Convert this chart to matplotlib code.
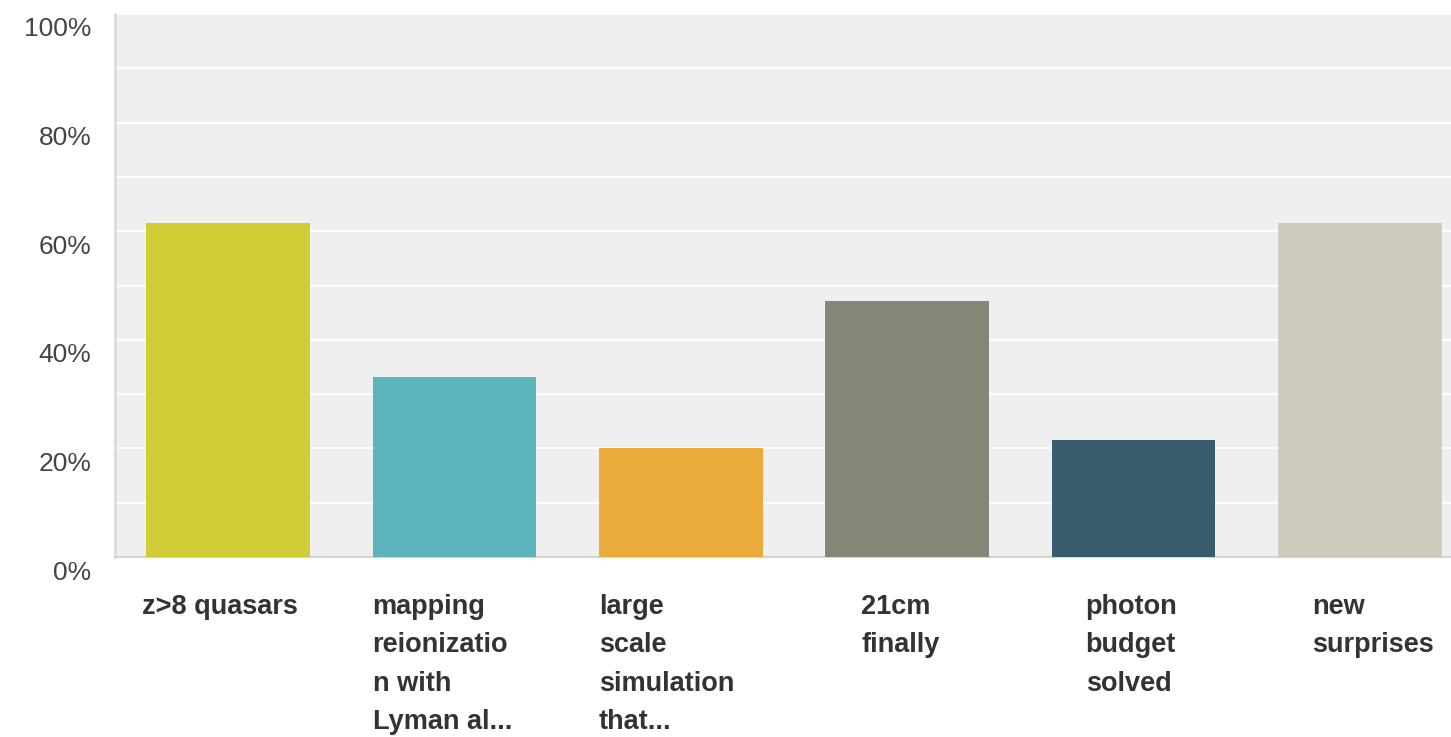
import matplotlib
matplotlib.use("Agg")
import matplotlib.pyplot as plt
import matplotlib.transforms as mtransforms
from matplotlib.ticker import MultipleLocator, FuncFormatter

categories = ["z>8 quasars", "mapping\nreionizatio\nn with\nLyman al...",
              "large\nscale\nsimulation\nthat...", "21cm\nfinally",
              "photon\nbudget\nsolved", "new\nsurprises"]
values = [61.6, 33.1, 20.1, 47.1, 21.5, 61.6]
colors = ["#d0cc36", "#5bb4b9", "#eaab3b", "#868677", "#385d6c", "#cfccbe"]
label_nudge_px = [-4, 0, 0, 36, 34, 34]

plt.rcParams['font.family'] = ['Liberation Sans', 'DejaVu Sans']

fig = plt.figure(figsize=(14.51, 7.37), dpi=100)
W, H = 1451, 737
left, right, top, bottom = 115, 1473, 14, 557
ax = fig.add_axes([left / W, (H - bottom) / H, (right - left) / W, (bottom - top) / H])
ax.set_facecolor("#efefef")

x = list(range(len(categories)))
ax.bar(x, values, width=0.724, color=colors, zorder=3)
ax.set_xlim(-0.5, len(categories) - 0.5)
ax.set_ylim(0, 100)

ax.yaxis.set_major_locator(MultipleLocator(20))
ax.yaxis.set_minor_locator(MultipleLocator(10))
ax.yaxis.set_major_formatter(FuncFormatter(lambda v, p: f"{int(v)}%"))
ax.grid(axis='y', which='both', color='white', lw=1.4, zorder=1)
ax.tick_params(axis='y', which='both', length=0, labelsize=19, labelcolor='#444444', pad=17)
ax.set_xticks([])
for s in ['top', 'right']:
    ax.spines[s].set_visible(False)
ax.spines['left'].set_color('#dcdcdc')
ax.spines['left'].set_linewidth(2)
ax.spines['bottom'].set_color('#d4d4d4')
ax.spines['bottom'].set_linewidth(1.5)

off = mtransforms.ScaledTranslation(0, -13 / 100, fig.dpi_scale_trans)
for lab in ax.get_yticklabels():
    lab.set_transform(lab.get_transform() + off)

bw = 0.724
for i, (c, n) in enumerate(zip(categories, label_nudge_px)):
    tr = ax.get_xaxis_transform() + mtransforms.ScaledTranslation(n / 100, -37 / 100, fig.dpi_scale_trans)
    ax.text(i - bw / 2, 0, c, transform=tr, ha='left', va='top',
            fontsize=19.5, fontweight='bold', color='#333333', linespacing=1.62)

fig.savefig("out.png", dpi=100, facecolor='white')
